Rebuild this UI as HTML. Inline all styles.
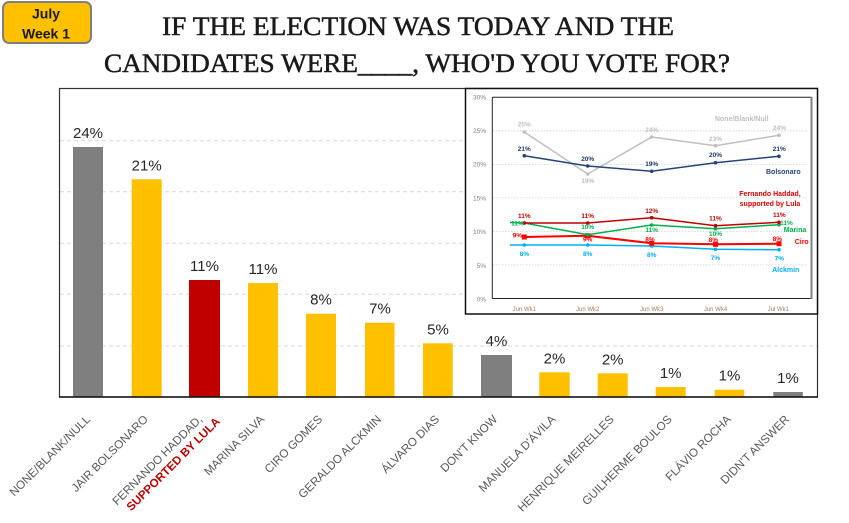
<!DOCTYPE html>
<html>
<head>
<meta charset="utf-8">
<style>
html,body{margin:0;padding:0;background:#fff;}
svg{display:block;}
</style>
</head>
<body>
<svg width="849" height="523" viewBox="0 0 849 523" xmlns="http://www.w3.org/2000/svg">
<rect x="0" y="0" width="849" height="523" fill="#fff"/>

<!-- Badge -->
<rect x="3" y="2" width="88" height="41" rx="6" ry="6" fill="#ffc000" stroke="#7f7f7f" stroke-width="2"/>
<text x="46" y="18.5" text-anchor="middle" font-family="Liberation Sans, sans-serif" font-weight="bold" font-size="14" fill="#1a1a1a">July</text>
<text x="46" y="38.3" text-anchor="middle" font-family="Liberation Sans, sans-serif" font-weight="bold" font-size="14" fill="#1a1a1a">Week 1</text>

<!-- Title -->
<text x="418" y="35" text-anchor="middle" font-family="Liberation Serif, serif" font-size="26" fill="#1a1a1a" stroke="#1a1a1a" stroke-width="0.5" textLength="512" lengthAdjust="spacingAndGlyphs">IF THE ELECTION WAS TODAY AND THE</text>
<text x="417" y="72" text-anchor="middle" font-family="Liberation Serif, serif" font-size="26" fill="#1a1a1a" stroke="#1a1a1a" stroke-width="0.5" textLength="626" lengthAdjust="spacingAndGlyphs">CANDIDATES WERE____, WHO'D YOU VOTE FOR?</text>

<!-- Main frame gridlines -->
<g stroke="#d9d9d9" stroke-width="1" stroke-dasharray="4,3">
<line x1="60" y1="346" x2="817" y2="346"/>
<line x1="60" y1="294.3" x2="817" y2="294.3"/>
<line x1="60" y1="243.3" x2="817" y2="243.3"/>
<line x1="60" y1="191.7" x2="817" y2="191.7"/>
<line x1="60" y1="140.7" x2="817" y2="140.7"/>
</g>

<!-- Bars -->
<rect x="73" y="147" width="30" height="250" fill="#7f7f7f"/>
<rect x="131.7" y="179.3" width="30" height="217.7" fill="#ffc000"/>
<rect x="189" y="280" width="31" height="117" fill="#c00000"/>
<rect x="248" y="283" width="30" height="114" fill="#ffc000"/>
<rect x="306" y="313.7" width="30" height="83.3" fill="#ffc000"/>
<rect x="365" y="322.7" width="29.5" height="74.3" fill="#ffc000"/>
<rect x="423" y="343.3" width="29.7" height="53.7" fill="#ffc000"/>
<rect x="481" y="355" width="31" height="42" fill="#7f7f7f"/>
<rect x="539.3" y="372.3" width="30.4" height="24.7" fill="#ffc000"/>
<rect x="597.7" y="373.3" width="30" height="23.7" fill="#ffc000"/>
<rect x="655.7" y="387" width="30" height="10" fill="#ffc000"/>
<rect x="714.7" y="389.7" width="29.5" height="7.3" fill="#ffc000"/>
<rect x="773.3" y="392" width="29.5" height="5" fill="#7f7f7f"/>

<!-- Bar value labels -->
<g font-family="Liberation Sans, sans-serif" font-size="15" fill="#262626" text-anchor="middle">
<text x="88" y="138">24%</text>
<text x="146.7" y="170.3">21%</text>
<text x="204.5" y="271">11%</text>
<text x="263" y="274">11%</text>
<text x="321" y="304.7">8%</text>
<text x="380" y="313.7">7%</text>
<text x="438" y="334.3">5%</text>
<text x="496.5" y="346">4%</text>
<text x="554.5" y="363.3">2%</text>
<text x="612.7" y="364.3">2%</text>
<text x="670.7" y="378">1%</text>
<text x="729.5" y="380.7">1%</text>
<text x="788" y="383">1%</text>
</g>

<!-- Main frame -->
<rect x="59.5" y="88.5" width="758" height="308.5" fill="none" stroke="#333" stroke-width="1.2"/>
<line x1="59" y1="397" x2="818" y2="397" stroke="#111" stroke-width="1.5"/>

<!-- X axis labels -->
<g font-family="Liberation Sans, sans-serif" font-size="11.7" fill="#595959" text-anchor="end">
<text transform="translate(91,420) rotate(-45)">NONE/BLANK/NULL</text>
<text transform="translate(148.7,420) rotate(-45)">JAIR BOLSONARO</text>
<g transform="translate(203,420) rotate(-45)">
<text x="0" y="0">FERNANDO HADDAD,</text>
<text x="11" y="14" font-weight="bold" fill="#c00000">SUPPORTED BY LULA</text>
</g>
<text transform="translate(265,420) rotate(-45)">MARINA SILVA</text>
<text transform="translate(323,420) rotate(-45)">CIRO GOMES</text>
<text transform="translate(382,420) rotate(-45)">GERALDO ALCKMIN</text>
<text transform="translate(440,420) rotate(-45)">ÁLVARO DIAS</text>
<text transform="translate(498,420) rotate(-45)">DON'T KNOW</text>
<text transform="translate(556.3,420) rotate(-45)">MANUELA D'ÁVILA</text>
<text transform="translate(614.7,420) rotate(-45)">HENRIQUE MEIRELLES</text>
<text transform="translate(672.7,420) rotate(-45)">GUILHERME BOULOS</text>
<text transform="translate(731.7,420) rotate(-45)">FLÁVIO ROCHA</text>
<text transform="translate(790,420) rotate(-45)">DIDN'T ANSWER</text>
</g>

<!-- Inset chart -->
<rect x="465.5" y="88.5" width="352" height="225.5" fill="#fff" stroke="#111" stroke-width="1.5"/>
<!-- inset gridlines -->
<g stroke="#d0d0d0" stroke-width="0.8" stroke-dasharray="1.5,1.5">
<line x1="493" y1="130.8" x2="808" y2="130.8"/>
<line x1="493" y1="164.4" x2="808" y2="164.4"/>
<line x1="493" y1="197.9" x2="808" y2="197.9"/>
<line x1="493" y1="231.4" x2="808" y2="231.4"/>
<line x1="493" y1="264.9" x2="808" y2="264.9"/>
</g>
<!-- inner plot box -->
<line x1="492.3" y1="97.3" x2="492.3" y2="298.5" stroke="#222" stroke-width="1"/>
<line x1="492.3" y1="97.3" x2="811.5" y2="97.3" stroke="#222" stroke-width="1"/>
<line x1="492.3" y1="298.5" x2="811.5" y2="298.5" stroke="#222" stroke-width="1"/>
<line x1="811.5" y1="97" x2="811.5" y2="299" stroke="#808080" stroke-width="2"/>

<!-- inset y ticks -->
<g font-family="Liberation Sans, sans-serif" font-size="6.5" fill="#7f7f7f" text-anchor="end">
<text x="486" y="99.6">30%</text>
<text x="486" y="133">25%</text>
<text x="486" y="166.6">20%</text>
<text x="486" y="200.3">15%</text>
<text x="486" y="234">10%</text>
<text x="486" y="268">5%</text>
<text x="486" y="301.3">0%</text>
</g>
<!-- inset x labels -->
<g font-family="Liberation Sans, sans-serif" font-size="6" fill="#a47c5c" text-anchor="middle">
<text x="524.3" y="311">Jun Wk1</text>
<text x="587.7" y="311">Jun Wk2</text>
<text x="651.7" y="311">Jun Wk3</text>
<text x="715.5" y="311">Jun Wk4</text>
<text x="778.3" y="311">Jul Wk1</text>
</g>

<!-- Series: None -->
<polyline points="524.3,132 587.7,174 651.7,137 715.5,145.7 779,135.3" fill="none" stroke="#bfbfbf" stroke-width="1.5"/>
<g fill="#bfbfbf">
<circle cx="524.3" cy="132" r="1.8"/><circle cx="587.7" cy="174" r="1.8"/><circle cx="651.7" cy="137" r="1.8"/><circle cx="715.5" cy="145.7" r="1.8"/><circle cx="779" cy="135.3" r="1.8"/>
</g>
<!-- Bolsonaro -->
<polyline points="524.3,155.7 587.7,166 651.7,171.3 715.5,162.7 779,156.3" fill="none" stroke="#264478" stroke-width="1.5"/>
<g fill="#264478">
<circle cx="524.3" cy="155.7" r="1.8"/><circle cx="587.7" cy="166" r="1.8"/><circle cx="651.7" cy="171.3" r="1.8"/><circle cx="715.5" cy="162.7" r="1.8"/><circle cx="779" cy="156.3" r="1.8"/>
</g>
<!-- Alckmin -->
<polyline points="510,245 524.3,245 587.7,245 651.7,246 715.5,249.3 779,249.7" fill="none" stroke="#00b0f0" stroke-width="1.5"/>
<g fill="#00b0f0">
<circle cx="524.3" cy="245" r="1.8"/><circle cx="587.7" cy="245" r="1.8"/><circle cx="651.7" cy="246" r="1.8"/><circle cx="715.5" cy="249.3" r="1.8"/><circle cx="779" cy="249.7" r="1.8"/>
</g>
<!-- Ciro -->
<polyline points="524.3,237 587.7,235.7 651.7,243.3 715.5,244.3 779,243.7" fill="none" stroke="#ff0000" stroke-width="2"/>
<g fill="#ff0000">
<rect x="521.8" y="234.5" width="5" height="5"/><rect x="585.2" y="233.2" width="5" height="5"/><rect x="649.2" y="240.8" width="5" height="5"/><rect x="713" y="241.8" width="5" height="5"/><rect x="776.5" y="241.2" width="5" height="5"/>
</g>
<!-- Marina -->
<polyline points="510,222.5 524.3,223 587.7,234.7 651.7,225 715.5,228.7 779,224.7" fill="none" stroke="#00b050" stroke-width="1.5"/>
<g fill="#00b050">
<circle cx="524.3" cy="223" r="1.8"/><circle cx="587.7" cy="234.7" r="1.8"/><circle cx="651.7" cy="225" r="1.8"/><circle cx="715.5" cy="228.7" r="1.8"/><circle cx="779" cy="224.7" r="1.8"/>
</g>
<!-- Haddad -->
<polyline points="524.3,223 587.7,223 651.7,217.7 715.5,225.7 779,222.3" fill="none" stroke="#c00000" stroke-width="1.5"/>
<g fill="#c00000">
<circle cx="524.3" cy="223" r="1.8"/><circle cx="587.7" cy="223" r="1.8"/><circle cx="651.7" cy="217.7" r="1.8"/><circle cx="715.5" cy="225.7" r="1.8"/><circle cx="779" cy="222.3" r="1.8"/>
</g>

<!-- inset data labels -->
<g font-family="Liberation Sans, sans-serif" font-size="6.5" font-weight="bold" text-anchor="middle">
<g fill="#bfbfbf">
<text x="524.3" y="126.3">25%</text>
<text x="587.7" y="183">19%</text>
<text x="651.7" y="132">24%</text>
<text x="715.5" y="141">23%</text>
<text x="779.5" y="130">24%</text>
</g>
<g fill="#1f3864">
<text x="524.3" y="151">21%</text>
<text x="587.7" y="161">20%</text>
<text x="651.7" y="166">19%</text>
<text x="715.5" y="157">20%</text>
<text x="779.3" y="151">21%</text>
</g>
<g fill="#c00000">
<text x="524.3" y="218">11%</text>
<text x="587.7" y="218">11%</text>
<text x="651.7" y="213">12%</text>
<text x="715.5" y="220.6">11%</text>
<text x="779.3" y="217">11%</text>
</g>
<g fill="#00b050">
<text x="517.5" y="225.3">11%</text>
<text x="587.7" y="229">10%</text>
<text x="651.7" y="232">11%</text>
<text x="715.5" y="236">10%</text>
<text x="786.5" y="225">11%</text>
</g>
<g fill="#ff0000">
<text x="517.3" y="237.6">9%</text>
<text x="587.7" y="241.3">9%</text>
<text x="650" y="241.3">8%</text>
<text x="713.3" y="242">8%</text>
<text x="777.3" y="241">8%</text>
</g>
<g fill="#00b0f0">
<text x="524.3" y="256">8%</text>
<text x="587.7" y="256">8%</text>
<text x="651.7" y="257">8%</text>
<text x="715.5" y="260">7%</text>
<text x="779.3" y="260.6">7%</text>
</g>
</g>

<!-- inset legends -->
<g font-family="Liberation Sans, sans-serif" font-size="7" font-weight="bold" text-anchor="middle">
<text x="741.7" y="121.2" fill="#bfbfbf">None/Blank/Null</text>
<text x="783.3" y="173.8" fill="#264478">Bolsonaro</text>
<text x="770" y="195.8" fill="#e00000">Fernando Haddad,</text>
<text x="770" y="206.2" fill="#e00000">supported by Lula</text>
<text x="795" y="231.8" fill="#00b050">Marina</text>
<text x="801.7" y="244.2" fill="#ff0000">Ciro</text>
<text x="785.7" y="272.2" fill="#00b0f0">Alckmin</text>
</g>
</svg>
</body>
</html>
